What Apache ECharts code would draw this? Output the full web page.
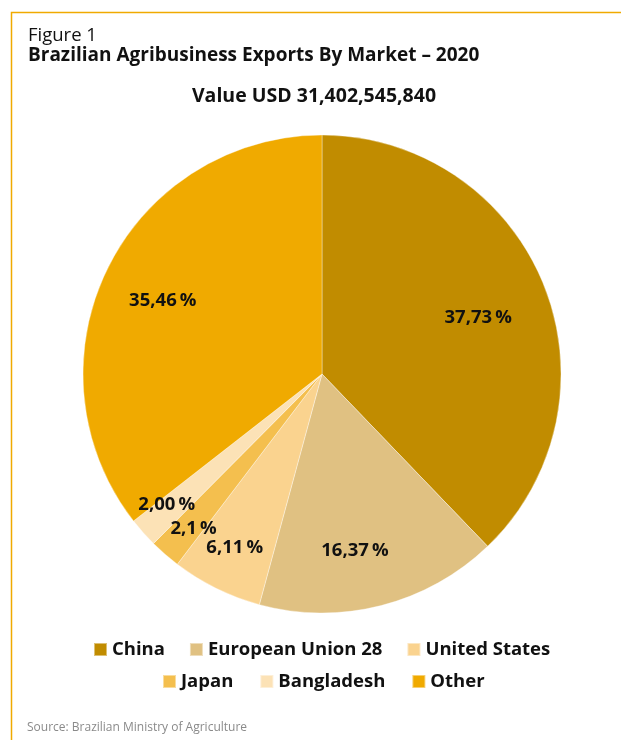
<!DOCTYPE html>
<html>
<head>
<meta charset="utf-8">
<script src="https://cdn.jsdelivr.net/npm/echarts@6/dist/echarts.min.js"></script>
<style>
  html, body { margin: 0; padding: 0; background: #ffffff; }
  #chart { width: 621px; height: 740px; }
</style>
</head>
<body>
<div id="chart"></div>
<script>
// Brazilian agribusiness exports by market, 2020 (share of total value, %)
const markets = ['China', 'European Union 28', 'United States', 'Japan', 'Bangladesh', 'Other'];
const shareLabels = ['37,73', '16,37', '6,11', '2,1', '2,00', '35,46'];
const shares = shareLabels.map(s => parseFloat(s.replace(',', '.')));
const totalValue = 'Value USD 31,402,545,840';

const sliceColors = ['#C18C00', '#E0C182', '#FAD38F', '#F4BF4E', '#FCE2B6', '#F0AA00'];
const accent = '#F0AA00';
const FONT = '"Open Sans", "Noto Sans", sans-serif';

// pie geometry in pixels
const CX = 322, CY = 374, R = 239;
// value label placement: [distance from centre as a fraction of radius, angular nudge in degrees]
const labelPlacement = {
  'China': [0.695, 2.0],
  'European Union 28': [0.754, 3.8],
  'United States': [0.812, 0.5],
  'Japan': [0.842, -1.4],
  'Bangladesh': [0.849, 1.5],
  'Other': [0.734, -1.2]
};

const chart = echarts.init(document.getElementById('chart'), null, { renderer: 'canvas' });

const legendText = { color: '#111', fontFamily: FONT, fontWeight: 'bold', fontSize: 18.5 };

chart.setOption({
  backgroundColor: '#ffffff',
  animation: false,
  color: sliceColors,
  title: [
    { text: 'Figure 1', left: 28, top: 26, padding: 0,
      textStyle: { fontFamily: FONT, fontWeight: 'normal', fontSize: 18.5, color: '#111' } },
    { text: 'Brazilian Agribusiness Exports By Market – 2020', left: 28, top: 46, padding: 0,
      textStyle: { fontFamily: FONT, fontWeight: 'bold', fontSize: 19, color: '#111' } },
    { text: totalValue, left: 314, top: 86, padding: 0, textAlign: 'center',
      textStyle: { fontFamily: FONT, fontWeight: 'bold', fontSize: 19.5, color: '#111' } },
    { text: 'Source: Brazilian Ministry of Agriculture', left: 27, top: 722, padding: 0,
      textStyle: { fontFamily: FONT, fontWeight: 'normal', fontSize: 12, color: '#8a8a8a' } }
  ],
  legend: [
    { data: markets.slice(0, 3), left: 93, top: 640, padding: 0, icon: 'rect',
      itemWidth: 13, itemHeight: 13, itemGap: 24, textStyle: legendText, selectedMode: false },
    { data: markets.slice(3), left: 162, top: 672, padding: 0, icon: 'rect',
      itemWidth: 13, itemHeight: 13, itemGap: 26, textStyle: legendText, selectedMode: false }
  ],
  graphic: [
    { type: 'polyline', silent: true,
      shape: { points: [[11.5, 740], [11.5, 12.5], [621, 12.5]] },
      style: { stroke: accent, lineWidth: 1.5, fill: null } }
  ],
  series: [{
    type: 'pie',
    center: [CX, CY],
    radius: [0, R],
    startAngle: 90,
    clockwise: true,
    avoidLabelOverlap: false,
    itemStyle: { borderColor: 'rgba(255,255,255,0.45)', borderWidth: 0.8 },
    label: {
      show: true,
      position: 'inside',
      fontFamily: FONT,
      fontWeight: 'bold',
      fontSize: 18.5,
      color: '#111',
      formatter: p => shareLabels[p.dataIndex] + '\u2009%'
    },
    labelLine: { show: false },
    // move each inside label along (and slightly around) its slice's mid-angle
    labelLayout: function (params) {
      const r = params.labelRect;
      const dx = r.x + r.width / 2 - CX, dy = r.y + r.height / 2 - CY;
      const place = labelPlacement[markets[params.dataIndex]];
      const ang = Math.atan2(dy, dx) + place[1] * Math.PI / 180;
      const dist = place[0] * R;
      return { x: CX + Math.cos(ang) * dist, y: CY + Math.sin(ang) * dist };
    },
    emphasis: { disabled: true },
    data: markets.map((m, i) => ({ name: m, value: shares[i] }))
  }]
});
</script>
</body>
</html>
